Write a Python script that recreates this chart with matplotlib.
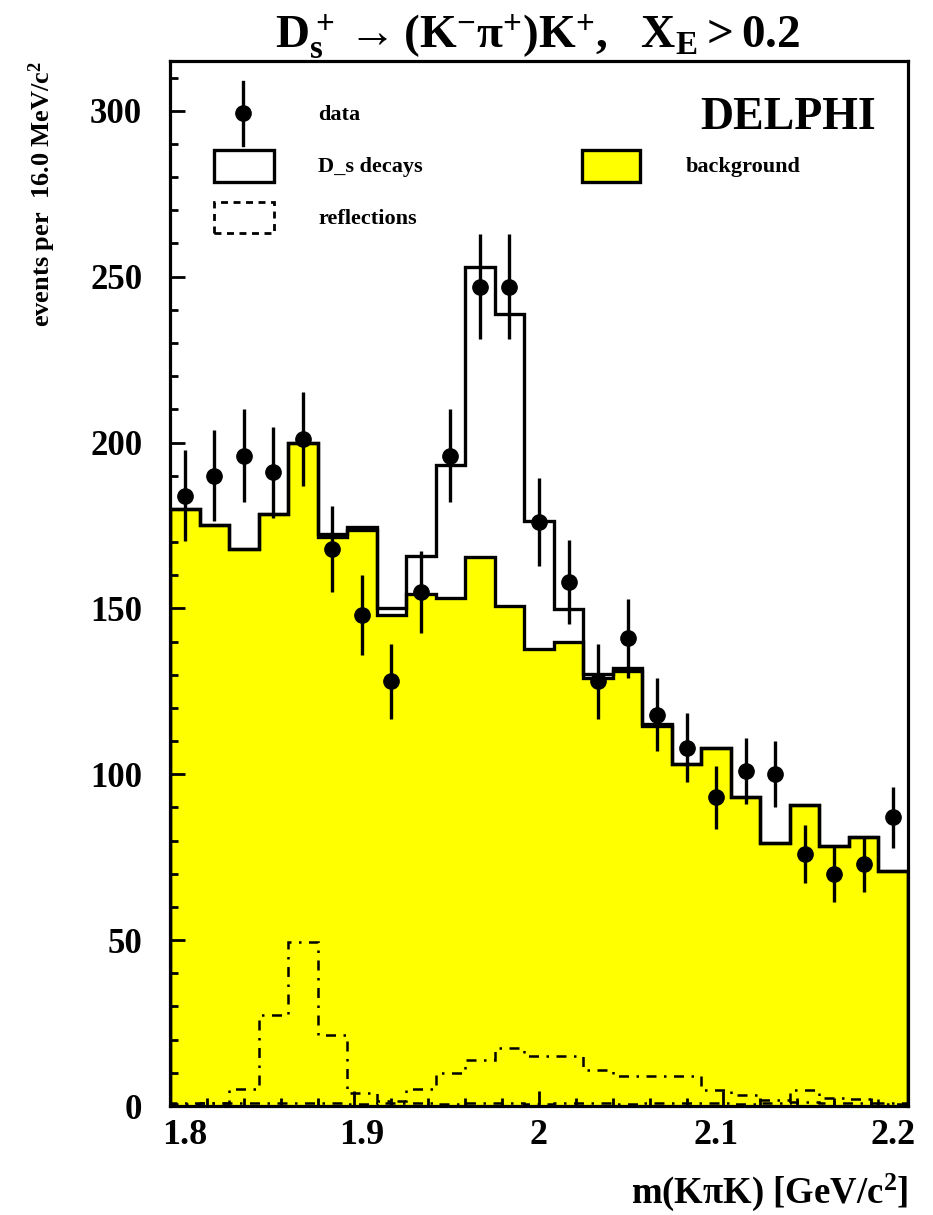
import numpy as np
import matplotlib.pyplot as plt
from matplotlib.patches import Rectangle
from matplotlib.lines import Line2D
from matplotlib.ticker import MultipleLocator

plt.rcParams['font.family'] = 'Liberation Serif'
plt.rcParams['font.weight'] = 'bold'
plt.rcParams['mathtext.fontset'] = 'custom'
plt.rcParams['mathtext.rm'] = 'Liberation Serif:bold'
plt.rcParams['mathtext.it'] = 'Liberation Serif:bold'
plt.rcParams['mathtext.bf'] = 'Liberation Serif:bold'
plt.rcParams['mathtext.default'] = 'rm'

# 25 bins of 16 MeV/c^2 from 1.8 to 2.2 GeV/c^2
m_min, m_max, n_bins = 1.8, 2.2, 25
edges = np.linspace(m_min, m_max, n_bins + 1)
centers = 0.5 * (edges[:-1] + edges[1:])

data_counts = [184, 190, 196, 191, 201, 168, 148, 128, 155, 196, 247, 247, 176,
               158, 128, 141, 118, 108, 93, 101, 100, 76, 70, 73, 87]
data_err = [13.6, 13.8, 14.0, 13.8, 14.2, 13.0, 12.2, 11.3, 12.4, 14.0, 15.7, 15.7, 13.3,
            12.6, 11.3, 11.9, 10.9, 10.4, 9.6, 10.0, 10.0, 8.7, 8.4, 8.5, 9.3]
ds_total = [180, 175, 168, 178.5, 200, 172.5, 174.5, 150, 165.8, 193.3, 252.8, 238.6, 176.3,
            149.7, 130.3, 132, 115.3, 103, 108, 93, 79.4, 90.7, 78.3, 81.1, 70.9]
background = [180, 175, 168, 178.5, 200, 171.5, 173.5, 148, 154.3, 153.2, 165.5, 150.7, 137.9,
              139.8, 129, 131, 114.6, 103, 108, 93, 79.4, 90.7, 78.3, 81.1, 70.9]
reflections = [0.8, 0.8, 5, 27.5, 49.5, 21.5, 4, 1.5, 5, 10, 14, 17.5, 15,
               15, 11, 9, 9, 9, 4.7, 3.3, 1.8, 4.7, 2.5, 2, 1]
reflections_low = [0.6, 0.8, 0.8, 0.9, 0.8, 0.8, 0.7, 0.9, 0.8, 0.7, 0.9, 0.8, 0.7,
                   0.8, 0.9, 0.7, 0.8, 0.9, 0.8, 0.7, 0.9, 1.2, 0.9, 0.8, 0.6]

fig = plt.figure(figsize=(9.33, 12.15), dpi=100)
ax = fig.add_axes([0.1822, 0.0897, 0.7910, 0.8601])

ax.stairs(background, edges, fill=True, color='#ffff00', zorder=1)
ax.stairs(background, edges, color='black', lw=2.4, zorder=2)
ax.stairs(ds_total, edges, color='black', lw=2.4, zorder=3)
dashdot = (0, (4, 3, 1, 3))
ax.stairs(reflections, edges, color='black', lw=1.8, linestyle=dashdot, zorder=3)
ax.stairs(reflections_low, edges, color='black', lw=1.8, linestyle=dashdot, zorder=3)
ax.errorbar(centers, data_counts, yerr=data_err, fmt='o', color='black', ms=11,
            elinewidth=2.4, capsize=0, zorder=4)

ax.set_xlim(m_min, m_max)
ax.set_ylim(0, 315)

for s in ax.spines.values():
    s.set_linewidth(2.3)
ax.xaxis.set_major_locator(MultipleLocator(0.1))
ax.xaxis.set_minor_locator(MultipleLocator(0.02))
ax.yaxis.set_major_locator(MultipleLocator(50))
ax.yaxis.set_minor_locator(MultipleLocator(10))
ax.tick_params(which='both', direction='in', top=False, right=False, width=2)
ax.tick_params(which='major', length=11)
ax.tick_params(which='minor', length=6)
ax.tick_params(axis='y', labelsize=25, pad=20)
ax.tick_params(axis='x', labelbottom=False)

# x tick labels, slightly pulled in toward the middle of the axis
for v, lab in zip([1.8, 1.9, 2.0, 2.1, 2.2], ['1.8', '1.9', '2', '2.1', '2.2']):
    ax.text(2.0 + (v - 2.0) * 0.96, -0.012, lab, transform=ax.get_xaxis_transform(),
            ha='center', va='top', fontsize=26)

ax.text(-0.1734, 1.0, r'events per  16.0 MeV/c$^2$', transform=ax.transAxes,
        rotation=90, ha='center', va='top', fontsize=19, fontweight='bold')
ax.text(1.0, -0.063, r'm(K$\pi$K) [GeV/c$^2$]', transform=ax.transAxes,
        ha='right', va='top', fontsize=26.5)
fig.text(0.576, 0.9605, r'$D_s^+\rightarrow(K^{{-}}\pi^{{+}})K^{{+}},\ \ X_E>0.2$',
         ha='center', va='baseline', fontsize=34)

# legend box drawn by hand
tr = ax.transAxes
ax.add_line(Line2D([0.0989, 0.0989], [0.9196, 0.980], transform=tr, color='black', lw=2.4))
ax.plot([0.0989], [0.950], 'o', color='black', ms=11, transform=tr)
ax.text(0.2005, 0.948, 'data', transform=tr, va='center', fontsize=16)
ax.add_patch(Rectangle((0.0596, 0.8842), 0.0813, 0.0306, transform=tr,
                       fill=False, ec='black', lw=2.4))
ax.text(0.2005, 0.8986, 'D_s decays', transform=tr, va='center', fontsize=16)
ax.add_patch(Rectangle((0.5583, 0.8842), 0.0786, 0.0306, transform=tr,
                       fc='#ffff00', ec='black', lw=2.4))
ax.text(0.6992, 0.8986, 'background', transform=tr, va='center', fontsize=16)
ax.add_patch(Rectangle((0.0596, 0.8354), 0.0813, 0.0297, transform=tr,
                       fill=False, ec='black', lw=2.0, linestyle=(0, (2.5, 2))))
ax.text(0.2005, 0.8488, 'reflections', transform=tr, va='center', fontsize=16)
ax.text(0.9566, 0.9455, 'DELPHI', transform=tr, ha='right', va='center', fontsize=33)

fig.savefig('out.png', dpi=100)
